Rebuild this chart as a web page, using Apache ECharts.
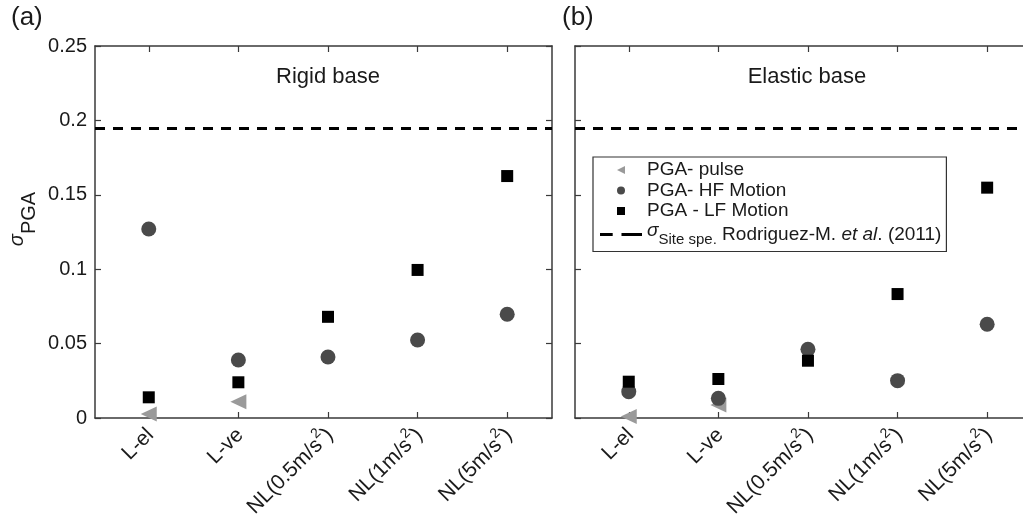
<!DOCTYPE html>
<html>
<head>
<meta charset="utf-8">
<script src="https://cdn.jsdelivr.net/npm/echarts@6/dist/echarts.min.js"></script>
<style>html,body{margin:0;padding:0;background:#fff;overflow:hidden}#c{width:1023px;height:524px}</style>
</head>
<body>
<div id="c"></div>
<script>
// ---- data ----
var categories = ['L-el', 'L-ve', 'NL(0.5m/s\u00B2)', 'NL(1m/s\u00B2)', 'NL(5m/s\u00B2)'];
var yTicks = [0, 0.05, 0.1, 0.15, 0.2, 0.25];
var sigmaSite = 0.195;
// Rigid base (a)
var rigidPulse = [0.0027, 0.011, null, null, null];
var rigidHF    = [0.127, 0.039, 0.041, 0.0524, 0.0697];
var rigidLF    = [0.0139, 0.024, 0.068, 0.0995, 0.1626];
// Elastic base (b)
var elasticPulse = [0.001, 0.0087, null, null, null];
var elasticHF    = [0.0177, 0.0132, 0.0462, 0.0251, 0.063];
var elasticLF    = [0.0244, 0.0262, 0.0385, 0.0833, 0.1548];

var NAME_PULSE = 'PGA- pulse', NAME_HF = 'PGA- HF Motion', NAME_LF = 'PGA - LF Motion', NAME_SIG = 'sigma';

function pts(arr) {
  var out = [];
  arr.forEach(function (v, i) { if (v !== null) out.push([i + 1, v]); });
  return out;
}

var FONT = "'Liberation Sans', Arial, Helvetica, sans-serif";
var AX = '#3a3a3a';
var TXT = '#1a1a1a';
var TRI = 'path://M10,0L10,10L0,5Z';
var SQ = 'path://M0,0L10,0L10,10L0,10Z';
var X_MIN = 0.4;
var X_MAX = [5.5, 5.4]; // panel (b) is cut by the right edge of the picture

// render "²" as a real superscript through rich text
function catLabel(name) {
  var idx = name.indexOf('\u00B2');
  if (idx < 0) return '{n|' + name + '}';
  return '{n|' + name.slice(0, idx) + '}{sup|2}{n|' + name.slice(idx + 1) + '}';
}

function xAx(gi, top) {
  return {
    type: 'value', gridIndex: gi, min: X_MIN, max: X_MAX[gi], position: top ? 'top' : 'bottom',
    axisLine: { show: true, onZero: false, lineStyle: { color: AX, width: 1.5 } },
    axisTick: { show: true, inside: true, length: 6, customValues: [1, 2, 3, 4, 5], lineStyle: { color: AX, width: 1.2 } },
    axisLabel: top ? { show: false } : {
      show: true, customValues: [1, 2, 3, 4, 5], rotate: 45, margin: 12,
      fontSize: 21, fontFamily: FONT, color: TXT,
      formatter: function (v) { var c = categories[Math.round(v) - 1]; return c ? catLabel(c) : ''; },
      rich: {
        n: { fontSize: 21, fontFamily: FONT, color: TXT, lineHeight: 26, verticalAlign: 'bottom' },
        sup: { fontSize: 14, fontFamily: FONT, color: TXT, lineHeight: 26, verticalAlign: 'top' }
      }
    },
    splitLine: { show: false }
  };
}
function yAx(gi, right, labels, hidden) {
  var o = {
    type: 'value', gridIndex: gi, min: 0, max: 0.25, interval: 0.05, position: right ? 'right' : 'left',
    show: !hidden,
    axisLine: { show: !hidden, onZero: false, lineStyle: { color: AX, width: 1.5 } },
    axisTick: { show: !hidden, inside: true, length: 6, lineStyle: { color: AX, width: 1.2 } },
    axisLabel: labels ? {
      show: true, margin: 8, fontSize: 20, fontFamily: FONT, color: TXT,
      formatter: function (v) { return String(parseFloat(v.toFixed(2))); }
    } : { show: false },
    splitLine: { show: false }
  };
  if (labels) {
    o.name = '{s|\u03C3}{sub|PGA}';
    o.nameLocation = 'middle';
    o.nameRotate = 90;
    o.nameGap = 56;
    o.nameTextStyle = {
      padding: [0, 0, 0, 26],
      rich: {
        s: { fontSize: 20, fontStyle: 'italic', fontFamily: FONT, color: TXT, verticalAlign: 'top', lineHeight: 32 },
        sub: { fontSize: 20, fontFamily: FONT, color: TXT, verticalAlign: 'bottom', lineHeight: 32 }
      }
    };
  }
  return o;
}

function scatter(name, data, gi, symbol, size, color) {
  return {
    type: 'scatter', name: name, xAxisIndex: gi * 2, yAxisIndex: gi * 2,
    data: pts(data), symbol: symbol, symbolSize: size,
    itemStyle: { color: color, opacity: 1 }, z: 3
  };
}
function sigLine(gi) {
  return {
    type: 'line', name: NAME_SIG, xAxisIndex: gi * 2, yAxisIndex: gi * 2,
    data: [], symbol: 'none', silent: true,
    lineStyle: { color: '#000', width: 3, type: [10, 8] },
    markLine: {
      silent: true, symbol: 'none', animation: false, precision: 4,
      label: { show: false },
      lineStyle: { color: '#000', width: 3, type: [10, 8] },
      emphasis: { disabled: true },
      data: [{ yAxis: sigmaSite }]
    },
    z: 2
  };
}

var C_PULSE = '#9a9a9a', C_HF = '#4a4a4a', C_LF = '#000000';

var option = {
  backgroundColor: '#fff',
  animation: false,
  title: [
    { text: '(a)', left: 6, top: 0, textStyle: { fontSize: 26, fontWeight: 'normal', fontFamily: FONT, color: TXT } },
    { text: '(b)', left: 557, top: 0, textStyle: { fontSize: 26, fontWeight: 'normal', fontFamily: FONT, color: TXT } },
    { text: 'Rigid base', left: 323, top: 61, textAlign: 'center', textStyle: { fontSize: 22, fontWeight: 'normal', fontFamily: FONT, color: TXT } },
    { text: 'Elastic base', left: 802, top: 61, textAlign: 'center', textStyle: { fontSize: 22, fontWeight: 'normal', fontFamily: FONT, color: TXT } }
  ],
  grid: [
    { left: 95, top: 46, right: 471, bottom: 106, outerBoundsMode: 'none', containLabel: false },
    { left: 575, top: 46, right: 0, bottom: 106, outerBoundsMode: 'none', containLabel: false }
  ],
  xAxis: [xAx(0, false), xAx(0, true), xAx(1, false), xAx(1, true)],
  yAxis: [yAx(0, false, true), yAx(0, true, false), yAx(1, false, false), yAx(1, true, false, true)],
  legend: {
    orient: 'vertical', left: 593, top: 157,
    padding: [3, 5, 4, 7], itemGap: 0.5, itemWidth: 42, itemHeight: 8,
    borderColor: '#333', borderWidth: 1.2, backgroundColor: '#fff',
    selectedMode: false,
    textStyle: {
      fontSize: 19, fontFamily: FONT, color: TXT, lineHeight: 20,
      rich: {
        s: { fontSize: 19, fontStyle: 'italic', fontFamily: FONT, color: TXT, verticalAlign: 'top', lineHeight: 26 },
        sub: { fontSize: 15, fontFamily: FONT, color: TXT, verticalAlign: 'bottom', lineHeight: 26 },
        t: { fontSize: 19, fontFamily: FONT, color: TXT, lineHeight: 26, verticalAlign: 'middle' },
        i: { fontSize: 19, fontStyle: 'italic', fontFamily: FONT, color: TXT, lineHeight: 26, verticalAlign: 'middle' }
      }
    },
    formatter: function (n) {
      if (n === NAME_SIG) return '{s|\u03C3}{sub|Site spe.}{t| Rodriguez-M. }{i|et al}{t|. (2011)}';
      return n;
    },
    data: [
      { name: NAME_PULSE, icon: TRI, itemStyle: { color: C_PULSE } },
      { name: NAME_HF, icon: 'circle', itemStyle: { color: C_HF } },
      { name: NAME_LF, icon: SQ, itemStyle: { color: C_LF } },
      { name: NAME_SIG, icon: 'path://M0,0h13v3h-13zM22,0h21v3h-21z', itemStyle: { color: '#000' } }
    ]
  },
  series: [
    sigLine(0), sigLine(1),
    scatter(NAME_PULSE, rigidPulse, 0, TRI, [16, 15], C_PULSE),
    scatter(NAME_HF, rigidHF, 0, 'circle', 15, C_HF),
    scatter(NAME_LF, rigidLF, 0, SQ, 12, C_LF),
    scatter(NAME_PULSE, elasticPulse, 1, TRI, [16, 15], C_PULSE),
    scatter(NAME_HF, elasticHF, 1, 'circle', 15, C_HF),
    scatter(NAME_LF, elasticLF, 1, SQ, 12, C_LF)
  ]
};

var chart = echarts.init(document.getElementById('c'), null, { renderer: 'canvas' });
chart.setOption(option);
</script>
</body>
</html>
